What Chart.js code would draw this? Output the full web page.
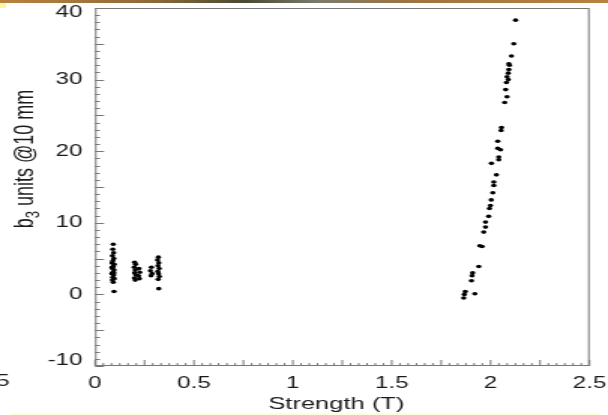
<!DOCTYPE html>
<html>
<head>
<meta charset="utf-8">
<script src="https://cdn.jsdelivr.net/npm/chart.js@4"></script>
<style>
  html, body { margin: 0; padding: 0; background: #fff; overflow: hidden; }
  #page { position: relative; width: 608px; height: 415px; }
  #wrap { position: absolute; left: 0; top: 0; width: 405px; height: 415px;
          transform: scaleX(1.5012); transform-origin: 0 0; }
  #topStrip { position: absolute; left: 0; top: 0; width: 608px; height: 3px;
    background: linear-gradient(90deg, #b8823e 0%, #8f6a38 25%, #4a4a32 40%, #7a7a6a 52%, #a07440 68%, #b8823e 100%); }
  #corner { position: absolute; left: 0; top: 3px; width: 6px; height: 5px; background: #fff7a0; }
  #bottomLine { position: absolute; left: 10px; top: 413px; width: 590px; height: 2px; background: #ffffd6; }
</style>
</head>
<body>
<div id="page">
  <div id="wrap"><canvas id="chart" width="405" height="415" style="width:405px;height:415px"></canvas></div>
  <div id="topStrip"></div>
  <div id="corner"></div>
  <div id="bottomLine"></div>
</div>
<script>
// low-field measurements (three clusters)
const strengthLow = [
  0.092, 0.090, 0.094, 0.088, 0.095, 0.090, 0.086, 0.097, 0.092, 0.088, 0.096,
  0.090, 0.085, 0.094, 0.090, 0.097, 0.088, 0.092, 0.095, 0.086, 0.096,
  0.200, 0.205, 0.198, 0.203, 0.200, 0.206, 0.199, 0.203, 0.222, 0.226, 0.220, 0.224,
  0.320, 0.316, 0.322, 0.318, 0.324, 0.317, 0.321, 0.325, 0.319, 0.285, 0.280, 0.288, 0.283, 0.322
];
const b3Low = [
  7.0, 6.3, 5.8, 5.4, 5.0, 4.7, 4.4, 4.2, 3.9, 3.6, 3.4,
  3.1, 2.9, 2.7, 2.4, 2.2, 2.0, 1.7, 3.0, 3.8, 0.4,
  4.5, 4.2, 3.8, 3.4, 3.0, 2.7, 2.3, 2.0, 3.6, 3.1, 2.6, 2.2,
  5.2, 4.8, 4.4, 4.0, 3.6, 3.2, 2.9, 2.5, 2.1, 3.8, 3.3, 2.9, 2.6, 0.8
];

// high-field ramp
const strengthRamp = [
  1.864, 1.867, 1.872, 1.920, 1.903, 1.906, 1.909, 1.940, 1.945, 1.957, 1.965,
  1.974, 1.974, 1.990, 1.994, 1.999, 2.003, 2.011, 2.016, 2.016, 2.029, 2.004,
  2.041, 2.041, 2.050, 2.036, 2.036, 2.053, 2.055, 2.071, 2.083, 2.076, 2.080,
  2.089, 2.083, 2.089, 2.092, 2.095, 2.092, 2.105, 2.117, 2.126
];
const b3Ramp = [
  -0.5, 0.0, 0.4, 0.1, 1.9, 2.6, 3.0, 3.9, 6.8, 6.7, 8.7,
  9.4, 10.1, 10.9, 12.0, 12.4, 13.2, 14.2, 15.2, 15.7, 16.7, 18.3,
  18.8, 19.2, 20.2, 20.4, 21.4, 22.9, 23.3, 26.8, 27.6, 28.6, 29.6,
  30.0, 30.4, 30.9, 31.4, 32.0, 32.2, 33.3, 35.0, 38.3
];

const xTicks = [0, 0.5, 1, 1.5, 2, 2.5];
const yTicks = [-10, 0, 10, 20, 30, 40];

const FONT = "'Liberation Sans', Arial, Helvetica, sans-serif";
const INK = "#1a1a1a";

// box, inward ticks and axis titles
const axisDecor = {
  id: "axisDecor",
  afterDraw(chart) {
    const { ctx, chartArea: a, scales: { x, y } } = chart;
    ctx.save();
    ctx.strokeStyle = "#777";
    ctx.lineWidth = 1;
    ctx.strokeRect(a.left + 0.5, a.top + 0.5, a.right - a.left - 1, a.bottom - a.top - 1);

    ctx.beginPath();
    for (let v = -10; v <= 40; v++) {
      const py = Math.round(y.getPixelForValue(v)) + 0.5;
      const len = v % 5 === 0 ? 6 : 3.3;
      ctx.moveTo(a.left, py);
      ctx.lineTo(a.left + len, py);
    }
    for (let i = 0; i <= 60; i++) {
      const px = x.getPixelForValue(i / 24);
      const len = i % 6 === 0 ? 6 : 3;
      ctx.moveTo(px, a.bottom);
      ctx.lineTo(px, a.bottom - len);
    }
    ctx.stroke();

    ctx.fillStyle = INK;
    // x title
    ctx.font = "17px " + FONT;
    ctx.textAlign = "center";
    ctx.textBaseline = "middle";
    ctx.fillText("Strength (T)", 224, 404);

    // cut-off label at the far left
    ctx.font = "16px " + FONT;
    ctx.textAlign = "right";
    ctx.fillText("5", 6.5, 382);

    // y title with subscript
    ctx.translate(15.5, 159);
    ctx.rotate(-Math.PI / 2);
    ctx.textAlign = "left";
    ctx.textBaseline = "alphabetic";
    const big = "18px " + FONT, small = "13px " + FONT;
    ctx.font = big;
    const wB = ctx.measureText("b").width;
    const wRest = ctx.measureText(" units @10 mm").width;
    ctx.font = small;
    const w3 = ctx.measureText("3").width;
    let sx = -(wB + w3 + wRest) / 2;
    const base = 6;
    ctx.font = big;
    ctx.fillText("b", sx, base);
    sx += wB;
    ctx.font = small;
    ctx.fillText("3", sx, base + 4);
    sx += w3;
    ctx.font = big;
    ctx.fillText(" units @10 mm", sx, base);
    ctx.restore();
  }
};

const toPoints = (xs, ys) => xs.map((v, i) => ({ x: v, y: ys[i] }));

// keep the plot box where the picture has it
const noEdgePadding = (s) => {
  s.paddingLeft = 0;
  s.paddingRight = 0;
  s.paddingTop = 0;
  s.paddingBottom = 0;
};

// end labels sit a little inside the box, as in the picture
const yLabel = (v) => {
  if (v === 40) return ["", "40"];
  if (v === -10) return ["-10", ""];
  return String(v);
};

new Chart(document.getElementById("chart"), {
  type: "scatter",
  data: {
    datasets: [
      {
        label: "low field",
        data: toPoints(strengthLow, b3Low),
        backgroundColor: "#000",
        borderWidth: 0,
        pointRadius: 1.8
      },
      {
        label: "ramp",
        data: toPoints(strengthRamp, b3Ramp),
        backgroundColor: "#000",
        borderWidth: 0,
        pointRadius: 1.8
      }
    ]
  },
  options: {
    responsive: false,
    animation: false,
    layout: { padding: { left: 0, right: 12.3, top: 8, bottom: 0 } },
    plugins: { legend: { display: false }, tooltip: { enabled: false } },
    scales: {
      x: {
        type: "linear",
        min: 0,
        max: 2.5,
        grid: { display: false, drawTicks: false },
        border: { display: false },
        afterBuildTicks: (s) => { s.ticks = xTicks.map((v) => ({ value: v })); },
        afterFit: (s) => { s.height = 49; noEdgePadding(s); },
        ticks: {
          color: INK, font: { family: FONT, size: 16 }, padding: 8, maxRotation: 0,
          callback: (v) => String(v)
        }
      },
      y: {
        type: "linear",
        min: -10,
        max: 40,
        grid: { display: false, drawTicks: false },
        border: { display: false },
        afterBuildTicks: (s) => { s.ticks = yTicks.map((v) => ({ value: v })); },
        afterFit: (s) => { s.width = 63.3; noEdgePadding(s); },
        ticks: {
          color: INK, font: { family: FONT, size: 16, lineHeight: "10px" }, padding: 8.5,
          callback: yLabel
        }
      }
    }
  },
  plugins: [axisDecor]
});
</script>
</body>
</html>
